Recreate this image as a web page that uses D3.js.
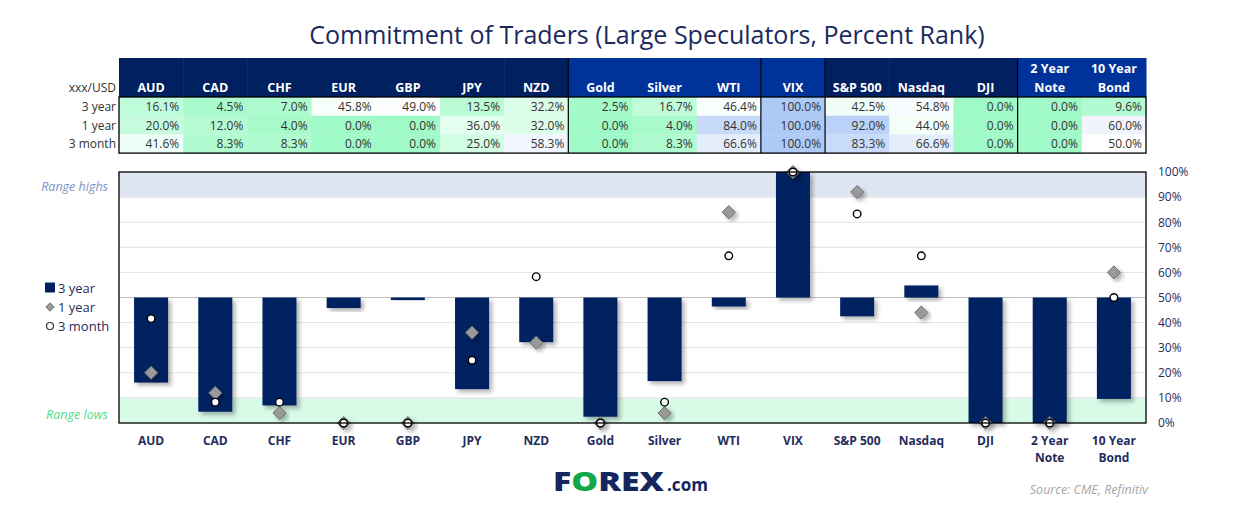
<!DOCTYPE html>
<html>
<head>
<meta charset="utf-8">
<script src="https://cdn.jsdelivr.net/npm/d3@7"></script>
<style>
  html, body { margin: 0; padding: 0; background: #ffffff; }
  svg { display: block; }
</style>
</head>
<body>
<svg id="chart" width="1245" height="515"></svg>
<script>
// ---------- data ----------
const categories = ["AUD","CAD","CHF","EUR","GBP","JPY","NZD","Gold","Silver","WTI","VIX","S&P 500","Nasdaq","DJI","2 Year Note","10 Year Bond"];
const headerLines = [["AUD"],["CAD"],["CHF"],["EUR"],["GBP"],["JPY"],["NZD"],["Gold"],["Silver"],["WTI"],["VIX"],["S&P 500"],["Nasdaq"],["DJI"],["2 Year","Note"],["10 Year","Bond"]];
const groups = ["fx","fx","fx","fx","fx","fx","fx","cmd","cmd","cmd","vix","idx","idx","idx","bond","bond"];
const threeYear = [16.1,4.5,7.0,45.8,49.0,13.5,32.2,2.5,16.7,46.4,100.0,42.5,54.8,0.0,0.0,9.6];
const oneYear   = [20.0,12.0,4.0,0.0,0.0,36.0,32.0,0.0,4.0,84.0,100.0,92.0,44.0,0.0,0.0,60.0];
const threeMonth= [41.6,8.3,8.3,0.0,0.0,25.0,58.3,0.0,8.3,66.6,100.0,83.3,66.6,0.0,0.0,50.0];
const rowLabels = ["3 year","1 year","3 month"];
const yTicks = [0,10,20,30,40,50,60,70,80,90,100];
const legendLabels = ["3 year","1 year","3 month"];

// ---------- styles ----------
const NAVY = "#002060";
const BLUE = "#003399";
const TXT = "#1f2d5c";
const FONT = "'Open Sans', 'Noto Sans', sans-serif";

const svg = d3.select("#chart");
const defs = svg.append("defs");
const f = defs.append("filter").attr("id","shadow").attr("x","-30%").attr("y","-30%").attr("width","160%").attr("height","160%");
f.append("feDropShadow").attr("dx",3).attr("dy",3).attr("stdDeviation",2.2).attr("flood-color","#000").attr("flood-opacity",0.3);

// ---------- title ----------
svg.append("text").attr("x",647).attr("y",44).attr("text-anchor","middle")
  .attr("font-family",FONT).attr("font-size",25).attr("fill","#1b2a5e")
  .text("Commitment of Traders (Large Speculators, Percent Rank)");

// ---------- scales ----------
const left = 119, right = 1146;
const x = d3.scaleBand().domain(categories).range([left,right]).paddingInner(0).paddingOuter(0);
const y = d3.scaleLinear().domain([0,100]).range([423,172]);
const bw = x.bandwidth();
const barW = 34;

// ---------- table ----------
const tTop = 58, hdrBot = 97, rowH = 18.7;
const headerColor = {fx:NAVY, cmd:BLUE, vix:BLUE, idx:NAVY, bond:BLUE};
const tbl = svg.append("g");
tbl.selectAll("rect.hdr").data(categories).join("rect")
  .attr("x",d=>x(d)).attr("y",tTop).attr("width",bw+0.5).attr("height",hdrBot-tTop)
  .attr("fill",(d,i)=>headerColor[groups[i]]);
tbl.selectAll("text.hdr").data(headerLines).join("text")
  .attr("x",(d,i)=>x(categories[i])+bw/2).attr("text-anchor","middle")
  .attr("font-family",FONT).attr("font-weight","bold").attr("font-size",12.5).attr("fill","#fff")
  .each(function(d){
    const t = d3.select(this);
    if (d.length===1) t.append("tspan").attr("y",92).text(d[0]);
    else { t.append("tspan").attr("x",+t.attr("x")).attr("y",73).text(d[0]);
           t.append("tspan").attr("x",+t.attr("x")).attr("y",92).text(d[1]); }
  });

const color = d3.scaleLinear().domain([0,50,100]).range(["#a0fac7","#ffffff","#adcaf6"]);
const rows = [threeYear, oneYear, threeMonth];
rows.forEach((vals,r)=>{
  const yy = hdrBot + r*rowH;
  tbl.selectAll(null).data(vals).join("rect")
    .attr("x",(d,i)=>x(categories[i])).attr("y",yy).attr("width",bw+0.5).attr("height",rowH+0.3)
    .attr("fill",d=>color(d));
  tbl.selectAll(null).data(vals).join("text")
    .attr("x",(d,i)=>x(categories[i])+bw-4).attr("y",yy+14).attr("text-anchor","end")
    .attr("font-family",FONT).attr("font-size",12).attr("fill","#333")
    .text(d=>d.toFixed(1)+"%");
  svg.append("text").attr("x",116).attr("y",yy+14).attr("text-anchor","end")
    .attr("font-family",FONT).attr("font-size",12).attr("fill","#333").text(rowLabels[r]);
});
svg.append("text").attr("x",116).attr("y",92).attr("text-anchor","end")
  .attr("font-family",FONT).attr("font-size",12).attr("fill","#333").text("xxx/USD");
// table border & group separators
const tBot = hdrBot + 3*rowH;
tbl.append("rect").attr("x",left).attr("y",hdrBot).attr("width",right-left).attr("height",tBot-hdrBot)
  .attr("fill","none").attr("stroke","#000").attr("stroke-width",1.3);
[7,10,11,14].forEach(i=>{
  tbl.append("line").attr("x1",x(categories[i])).attr("x2",x(categories[i]))
    .attr("y1",tTop).attr("y2",tBot).attr("stroke","#000").attr("stroke-width",1.2);
});

// ---------- plot ----------
const plot = svg.append("g");
plot.append("rect").attr("x",left).attr("y",y(100)).attr("width",right-left).attr("height",y(90)-y(100)).attr("fill","#dfe6f1");
plot.append("rect").attr("x",left).attr("y",y(10)).attr("width",right-left).attr("height",y(0)-y(10)).attr("fill","#d7fbe7");
plot.selectAll("line.grid").data(yTicks.filter(t=>t>=10 && t<=90 && t!==50)).join("line")
  .attr("x1",left).attr("x2",right).attr("y1",d=>y(d)).attr("y2",d=>y(d))
  .attr("stroke","#e3e3e3").attr("stroke-width",1);
plot.append("line").attr("x1",left).attr("x2",right).attr("y1",y(50)).attr("y2",y(50))
  .attr("stroke","#c0c0c0").attr("stroke-width",1);

// bars
plot.selectAll("rect.bar").data(threeYear).join("rect")
  .attr("x",(d,i)=>x(categories[i])+bw/2-barW/2).attr("width",barW)
  .attr("y",d=>y(Math.max(d,50))).attr("height",d=>Math.abs(y(d)-y(50)))
  .attr("fill",NAVY).attr("filter","url(#shadow)");

// 1 year diamonds
const diamond = d3.symbol().type(d3.symbolDiamond2).size(110);
plot.selectAll("path.d1").data(oneYear).join("path")
  .attr("d",diamond)
  .attr("transform",(d,i)=>`translate(${x(categories[i])+bw/2},${y(d)})`)
  .attr("fill","#999").attr("stroke","#6e6e6e").attr("stroke-width",1)
  .attr("filter","url(#shadow)");

// 3 month circles
plot.selectAll("circle.m3").data(threeMonth).join("circle")
  .attr("cx",(d,i)=>x(categories[i])+bw/2).attr("cy",d=>y(d)).attr("r",3.8)
  .attr("fill","#fff").attr("stroke","#000").attr("stroke-width",1.4);

// border
plot.append("rect").attr("x",left).attr("y",y(100)).attr("width",right-left).attr("height",y(0)-y(100))
  .attr("fill","none").attr("stroke","#000").attr("stroke-width",1.3);

// right axis
const yAxis = d3.axisRight(y).tickValues(yTicks).tickFormat(d=>d+"%").tickSize(0).tickPadding(0);
const ax = svg.append("g").attr("transform",`translate(${1158},0)`).call(yAxis);
ax.select(".domain").remove();
ax.selectAll("text").attr("font-family",FONT).attr("font-size",12).attr("fill",TXT);

// x labels
const xl = svg.append("g");
xl.selectAll("text").data(headerLines).join("text")
  .attr("x",(d,i)=>x(categories[i])+bw/2).attr("text-anchor","middle")
  .attr("font-family",FONT).attr("font-weight","bold").attr("font-size",12).attr("fill",TXT)
  .each(function(d){
    const t = d3.select(this);
    d.forEach((s,k)=>t.append("tspan").attr("x",+t.attr("x")).attr("y",445+k*17).text(s));
  });

// range labels
svg.append("text").attr("x",108).attr("y",191).attr("text-anchor","end")
  .attr("font-family",FONT).attr("font-style","italic").attr("font-size",12.5).attr("fill","#7d93c9").text("Range highs");
svg.append("text").attr("x",108).attr("y",419).attr("text-anchor","end")
  .attr("font-family",FONT).attr("font-style","italic").attr("font-size",12.5).attr("fill","#4fdc8b").text("Range lows");

// legend
const lg = svg.append("g");
const ly = [288,307,326];
lg.append("rect").attr("x",45).attr("y",ly[0]-5.5).attr("width",10).attr("height",10).attr("fill",NAVY);
lg.append("path").attr("d",d3.symbol().type(d3.symbolDiamond2).size(45)).attr("transform",`translate(50,${ly[1]})`)
  .attr("fill","#999").attr("stroke","#6e6e6e");
lg.append("circle").attr("cx",50).attr("cy",ly[2]).attr("r",3.5).attr("fill","#fff").attr("stroke","#333").attr("stroke-width",1.2);
lg.selectAll("text").data(legendLabels).join("text")
  .attr("x",58).attr("y",(d,i)=>ly[i]+5).attr("font-family",FONT).attr("font-size",13).attr("fill",TXT).text(d=>d);

// logo
const logo = svg.append("text").attr("x",553).attr("y",491).attr("font-family","'Open Sans', sans-serif")
  .attr("font-weight","800").attr("font-size",26).attr("textLength",111).attr("lengthAdjust","spacingAndGlyphs");
logo.append("tspan").attr("fill","#13275e").text("F");
logo.append("tspan").attr("fill","#12a84a").text("O");
logo.append("tspan").attr("fill","#13275e").text("REX");
svg.append("text").attr("x",667).attr("y",491).attr("font-family","'Open Sans', sans-serif")
  .attr("font-weight","bold").attr("font-size",18).attr("fill","#13275e")
  .attr("textLength",41).attr("lengthAdjust","spacingAndGlyphs").text(".com");

// source
svg.append("text").attr("x",1148).attr("y",494).attr("text-anchor","end")
  .attr("font-family",FONT).attr("font-style","italic").attr("font-size",12.5).attr("fill","#a6a6a6").text("Source: CME, Refinitiv");
</script>
</body>
</html>
